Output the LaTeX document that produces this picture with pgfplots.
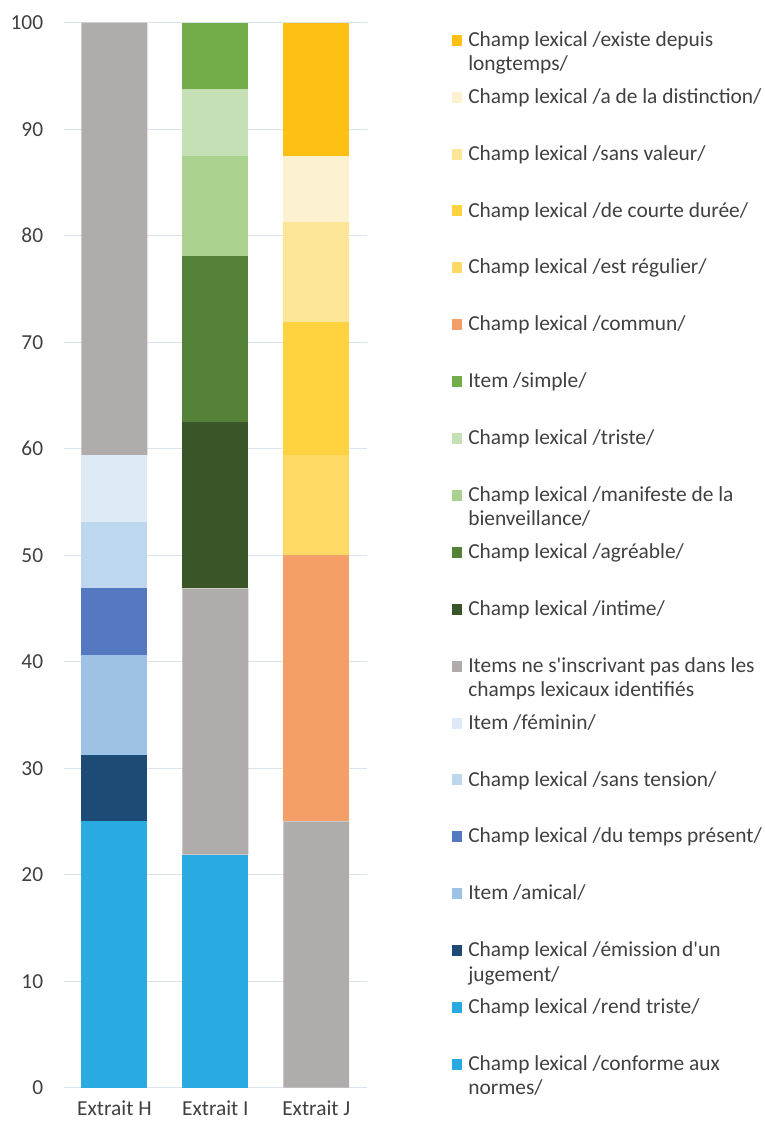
\documentclass[border=0pt]{standalone}
\usepackage{fontspec}
\setmainfont{Carlito}[Ligatures=TeXOff]
\usepackage{pgfplots}
\pgfplotsset{compat=1.18}

\definecolor{txt}{HTML}{404040}
\definecolor{gridc}{HTML}{DDE3EC}
\definecolor{cExiste}{HTML}{FDC013}
\definecolor{cDistinct}{HTML}{FCF1D1}
\definecolor{cSansVal}{HTML}{FEE699}
\definecolor{cCourte}{HTML}{FFD340}
\definecolor{cRegulier}{HTML}{FFD966}
\definecolor{cCommun}{HTML}{F59F68}
\definecolor{cSimple}{HTML}{72AD4A}
\definecolor{cTriste}{HTML}{C6E0B5}
\definecolor{cManif}{HTML}{ABD18F}
\definecolor{cAgreable}{HTML}{558239}
\definecolor{cIntime}{HTML}{3A5628}
\definecolor{cItems}{HTML}{AFACAB}
\definecolor{cFeminin}{HTML}{DEEBF7}
\definecolor{cSansTens}{HTML}{BDD7EE}
\definecolor{cTemps}{HTML}{5479C0}
\definecolor{cAmical}{HTML}{9DC2E5}
\definecolor{cEmission}{HTML}{1D4B76}
\definecolor{cBleu}{HTML}{29ABE2}

\newcommand{\f}{\fontsize{21.4}{24.4}\selectfont}
\newcommand{\tl}[2]{\begin{tabular}[t]{@{}l@{}}#1\\#2\end{tabular}}

\begin{document}
\begin{tikzpicture}
\begin{axis}[
    name=ax,
    scale only axis,
    width=302.7pt, height=1065pt,
    ybar stacked,
    bar width=0.654,
    xmin=-0.5, xmax=2.5,
    ymin=0, ymax=100,
    enlargelimits=false,
    xtick={0,1,2},
    xticklabels={Extrait H, Extrait I, Extrait J},
    ytick={0,10,...,100},
    ymajorgrids,
    grid style={draw=gridc, line width=1.2pt},
    axis line style={draw=none},
    major tick length=0pt,
    /pgf/number format/assume math mode=true,
    tick label style={font=\f, text=txt, inner sep=0pt},
    yticklabel style={anchor=east, xshift=-20.7pt},
    xticklabel style={anchor=base, yshift=-28pt},
    reverse legend,
    legend image code/.code={\path[#1,draw=none] (0pt,0.6pt) rectangle (10.5pt,11.6pt);},
    legend style={
        at={(1.2808,0.99286)}, anchor=north west,
        draw=none, fill=none, inner sep=0pt, outer sep=0pt,
        row sep=0pt, column sep=6.1pt,
        font=\f, text=txt,
        cells={anchor=base west},
        nodes={inner sep=0pt, text height=16pt, text depth=40.9pt},
    },
]
% bottom to top, values in percent
\addplot[fill=cBleu, draw=none] coordinates {(0,25) (1,0) (2,0)};
\addlegendentry{\tl{Champ lexical /conforme aux}{normes/}}
\addplot[fill=cBleu, draw=none] coordinates {(0,0) (1,21.875) (2,0)};
\addlegendentry{Champ lexical /rend triste/}
\addplot[fill=cEmission, draw=none] coordinates {(0,6.25) (1,0) (2,0)};
\addlegendentry{\tl{Champ lexical /émission d'un}{jugement/}}
\addplot[fill=cAmical, draw=none] coordinates {(0,9.375) (1,0) (2,0)};
\addlegendentry{Item /amical/}
\addplot[fill=cTemps, draw=none] coordinates {(0,6.25) (1,0) (2,0)};
\addlegendentry{Champ lexical /du temps présent/}
\addplot[fill=cSansTens, draw=none] coordinates {(0,6.25) (1,0) (2,0)};
\addlegendentry{Champ lexical /sans tension/}
\addplot[fill=cFeminin, draw=none] coordinates {(0,6.25) (1,0) (2,0)};
\addlegendentry{Item /féminin/}
\addplot[fill=cItems, draw=none] coordinates {(0,40.625) (1,25) (2,25)};
\addlegendentry{\tl{Items ne s'inscrivant pas dans les}{champs lexicaux identifiés}}
\addplot[fill=cIntime, draw=none] coordinates {(0,0) (1,15.625) (2,0)};
\addlegendentry{Champ lexical /intime/}
\addplot[fill=cAgreable, draw=none] coordinates {(0,0) (1,15.625) (2,0)};
\addlegendentry{Champ lexical /agréable/}
\addplot[fill=cManif, draw=none] coordinates {(0,0) (1,9.375) (2,0)};
\addlegendentry{\tl{Champ lexical /manifeste de la}{bienveillance/}}
\addplot[fill=cTriste, draw=none] coordinates {(0,0) (1,6.25) (2,0)};
\addlegendentry{Champ lexical /triste/}
\addplot[fill=cSimple, draw=none] coordinates {(0,0) (1,6.25) (2,0)};
\addlegendentry{Item /simple/}
\addplot[fill=cCommun, draw=none] coordinates {(0,0) (1,0) (2,25)};
\addlegendentry{Champ lexical /commun/}
\addplot[fill=cRegulier, draw=none] coordinates {(0,0) (1,0) (2,9.375)};
\addlegendentry{Champ lexical /est régulier/}
\addplot[fill=cCourte, draw=none] coordinates {(0,0) (1,0) (2,12.5)};
\addlegendentry{Champ lexical /de courte durée/}
\addplot[fill=cSansVal, draw=none] coordinates {(0,0) (1,0) (2,9.375)};
\addlegendentry{Champ lexical /sans valeur/}
\addplot[fill=cDistinct, draw=none] coordinates {(0,0) (1,0) (2,6.25)};
\addlegendentry{Champ lexical /a de la distinction/}
\addplot[fill=cExiste, draw=none] coordinates {(0,0) (1,0) (2,12.5)};
\addlegendentry{\tl{Champ lexical /existe depuis}{longtemps/}}
\end{axis}
\pgfresetboundingbox
\path[use as bounding box] ([xshift=-64pt,yshift=-33.3pt]ax.south west)
    rectangle ([xshift=700pt,yshift=1087.7pt]ax.south west);
\end{tikzpicture}
\end{document}
